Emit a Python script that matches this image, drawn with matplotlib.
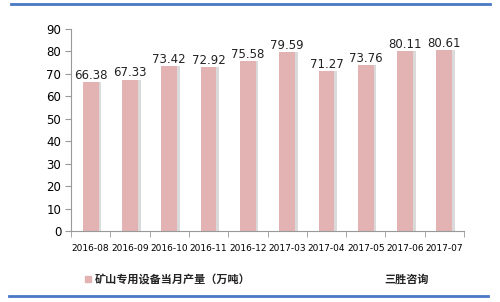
import matplotlib.pyplot as plt
import numpy as np
from matplotlib.lines import Line2D
from matplotlib.patches import Rectangle

plt.rcParams['font.family'] = ['Noto Sans CJK SC', 'DejaVu Sans']

# 数据
months = ['2016-08', '2016-09', '2016-10', '2016-11', '2016-12',
          '2017-03', '2017-04', '2017-05', '2017-06', '2017-07']
output = [66.38, 67.33, 73.42, 72.92, 75.58, 79.59, 71.27, 73.76, 80.11, 80.61]
series_name = '矿山专用设备当月产量（万吨）'

fig = plt.figure(figsize=(5, 3.02), dpi=100)
ax = fig.add_axes([0.142, 0.235, 0.786, 0.669])

x = np.arange(len(months))
# 阴影
ax.bar(x + 0.07, output, width=0.4, color='#dadada', zorder=1)
ax.bar(x, output, width=0.4, color='#e3b3b3', zorder=2)

for xi, v in zip(x, output):
    ax.text(xi, v + 0.2, '%.2f' % v, ha='center', va='bottom', fontsize=8.5,
            family='DejaVu Sans', color='#222222', zorder=3)

ax.set_xlim(-0.5, len(months) - 0.5)
ax.set_ylim(0, 90)
ax.set_yticks(range(0, 91, 10))
ax.set_xticks(x)
ax.set_xticklabels(months, fontsize=6.5, family='DejaVu Sans')
ax.set_xticks(np.arange(-0.5, len(months), 1), minor=True)
ax.tick_params(axis='x', which='major', length=0, pad=9)
ax.tick_params(axis='x', which='minor', length=4, color='#999999')
ax.tick_params(axis='y', labelsize=8.5, length=4, color='#999999', pad=3)
for lbl in ax.get_yticklabels():
    lbl.set_family('DejaVu Sans')

for s in ['top', 'right']:
    ax.spines[s].set_visible(False)
ax.spines['left'].set_color('#999999')
ax.spines['bottom'].set_color('#999999')

# 图例
fig.patches.append(Rectangle((0.17, 0.065), 0.012, 0.02, transform=fig.transFigure,
                             color='#e3b3b3'))
fig.text(0.19, 0.075, series_name, fontsize=8, va='center', ha='left', weight='bold',
         color='#222222')
fig.text(0.768, 0.075, '三胜咨询', fontsize=8, va='center', ha='left', weight='bold',
         color='#222222')

# 蓝色横线
fig.lines.append(Line2D([0.022, 0.98], [0.987, 0.987], transform=fig.transFigure,
                        color='#4a78c4', lw=2))
fig.lines.append(Line2D([0.018, 0.976], [0.021, 0.021], transform=fig.transFigure,
                        color='#4a78c4', lw=2))

fig.savefig('out.png', dpi=100)
